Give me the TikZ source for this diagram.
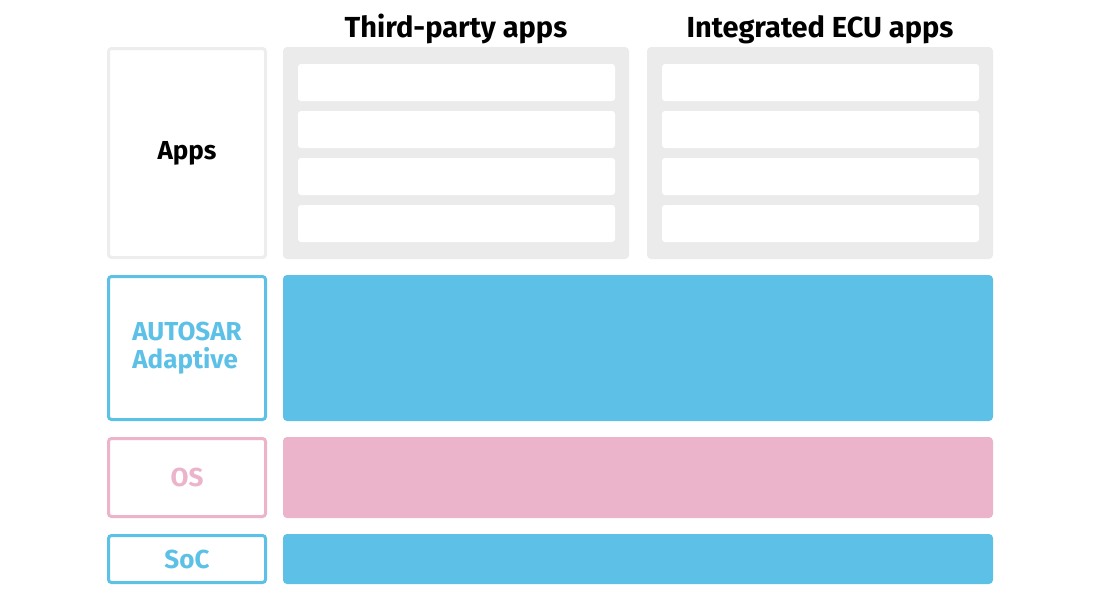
\documentclass[tikz,border=0pt]{standalone}
\usepackage{fontspec}
\setmainfont{Fira Sans}
\usepackage{tikz}

\definecolor{LayerBlue}{HTML}{5DC1E7}
\definecolor{LayerPink}{HTML}{EBB4CB}
\definecolor{PanelGray}{HTML}{EBEBEB}
\definecolor{AppsGray}{HTML}{EDEDED}

\begin{document}
\begin{tikzpicture}[
	x=1pt, y=-1pt,
	LabelBox/.style={draw, line width=3pt, rounded corners=3pt, fill=white,
		minimum width=157pt, inner sep=0pt, outer sep=0pt,
		font=\fontsize{26}{28}\selectfont\bfseries, align=left},
	Layer/.style={rounded corners=4pt, minimum width=710pt, inner sep=0pt,
		outer sep=0pt},
	Panel/.style={fill=PanelGray, rounded corners=4pt, minimum width=346pt,
		minimum height=212pt, inner sep=0pt, outer sep=0pt},
	Slot/.style={fill=white, rounded corners=3pt, minimum width=317pt,
		minimum height=37pt, inner sep=0pt, outer sep=0pt},
	Title/.style={anchor=base, font=\fontsize{29}{31}\selectfont\bfseries},
	]
	\useasboundingbox (0,0) rectangle (1100,600);

	% left column
	\node [LabelBox, draw=AppsGray, minimum height=209pt] (apps) at (187,153) {Apps};
	\node [LabelBox, draw=LayerBlue, text=LayerBlue, minimum height=143pt] (autosar) at (187,348) {AUTOSAR\\Adaptive};
	\node [LabelBox, draw=LayerPink, text=LayerPink, minimum height=78pt] (os) at (187,477.5) {OS};
	\node [LabelBox, draw=LayerBlue, text=LayerBlue, minimum height=47pt] (soc) at (187,559) {SoC};

	% app panels
	\node [Panel] (third) at (456,153) {};
	\node [Panel] (ecu) at (820,153) {};
	\foreach \i in {0,...,3} {
		\node [Slot] (third-\i) at (456.5,82.5+47*\i) {};
		\node [Slot] (ecu-\i) at (820.5,82.5+47*\i) {};
	}
	\node [Title] (third title) at (456,37) {Third-party apps};
	\node [Title] (ecu title) at (820,37) {Integrated ECU apps};

	% layers
	\node [Layer, fill=LayerBlue, minimum height=146pt] (autosar layer) at (638,348) {};
	\node [Layer, fill=LayerPink, minimum height=81pt] (os layer) at (638,477.5) {};
	\node [Layer, fill=LayerBlue, minimum height=50pt] (soc layer) at (638,559) {};
\end{tikzpicture}
\end{document}
